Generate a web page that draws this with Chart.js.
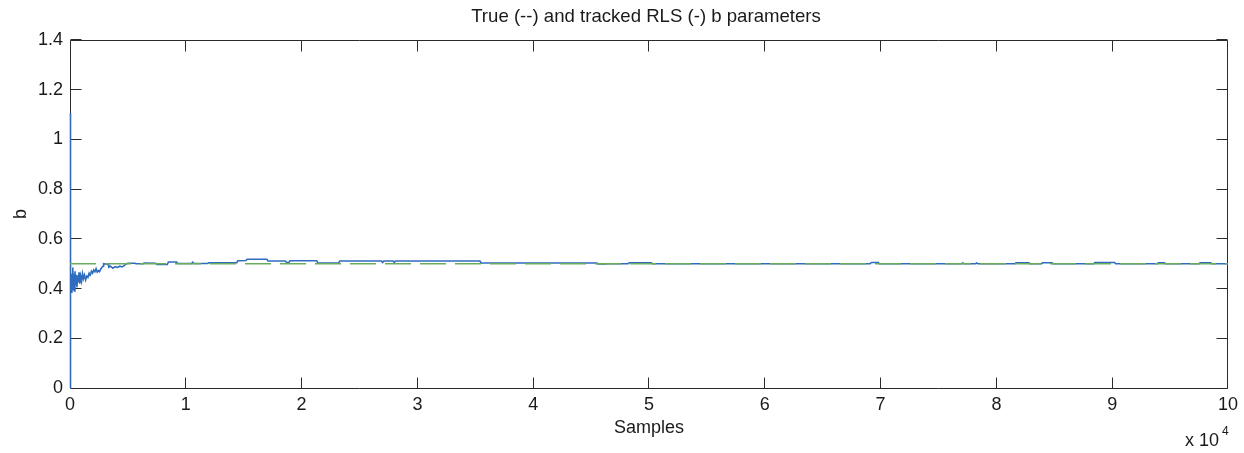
<!DOCTYPE html>
<html><head><meta charset="utf-8">
<script src="https://cdn.jsdelivr.net/npm/chart.js@4.4.1/dist/chart.umd.min.js"></script>
<style>html,body{margin:0;padding:0;background:#fff;overflow:hidden;}</style>
</head><body>
<canvas id="c" width="1244" height="453"></canvas>
<script>
// ---- data (x in samples) ----
const sampleIdx = [
 0, 10, 40, 80, 120, 160, 200, 240, 280, 330, 380, 430, 480, 540, 600, 660, 720, 780, 850, 920,
 1000, 1080, 1160, 1250, 1350, 1450, 1550, 1650, 1750, 1850, 1950, 2050, 2150, 2250, 2350, 2450,
 2550, 2650, 2750, 2850, 2900, 3100, 3300, 3350, 3500, 3700, 3900, 4100, 4300, 4500, 4700, 4900,
 5000, 5600, 5700, 6300, 6400, 7400, 7500, 8400, 8500, 9200, 9300, 10500, 10600, 10700, 11900, 12000,
 14400, 14500, 15200, 15300, 17000, 17100, 18600, 18700, 18900, 19000, 21300, 21400, 23200, 23300,
 26900, 27000, 27100, 27900, 28000, 28100, 35400, 35500, 45500, 45600, 46300, 46400, 48200, 48300,
 50200, 50300, 69100, 69200, 69800, 69900, 77000, 77100, 77200, 78200, 78300, 78400, 81600, 81700,
 82800, 82900, 83900, 84000, 84800, 84900, 88400, 88500, 90200, 90300, 93900, 94000, 94500, 94600,
 97500, 97600, 98500, 98600, 100000
];
const bTracked = [
 0, 1.105, 0.40, 0.47, 0.385, 0.46, 0.395, 0.485, 0.41, 0.46, 0.39, 0.47, 0.415, 0.455, 0.405, 0.45, 0.425, 0.465, 0.42, 0.45,
 0.43, 0.46, 0.44, 0.455, 0.435, 0.45, 0.445, 0.462, 0.455, 0.47, 0.462, 0.475, 0.468, 0.48, 0.466, 0.472,
 0.468, 0.478, 0.485, 0.49, 0.5, 0.499, 0.498, 0.486, 0.49, 0.482, 0.488, 0.485, 0.49, 0.487, 0.493, 0.5,
 0.502, 0.502, 0.5, 0.5, 0.503, 0.502, 0.497, 0.497, 0.507, 0.507, 0.501, 0.501, 0.506, 0.501, 0.501, 0.504,
 0.504, 0.512, 0.513, 0.518, 0.518, 0.511, 0.511, 0.505, 0.505, 0.512, 0.512, 0.503, 0.503, 0.511,
 0.511, 0.505, 0.511, 0.511, 0.505, 0.511, 0.511, 0.503, 0.503, 0.499, 0.499, 0.5, 0.5, 0.504,
 0.504, 0.5, 0.5, 0.505, 0.505, 0.5, 0.5, 0.503, 0.5, 0.5, 0.503, 0.5, 0.5, 0.504,
 0.504, 0.5, 0.5, 0.504, 0.504, 0.5, 0.5, 0.505, 0.505, 0.5, 0.5, 0.504, 0.504, 0.5,
 0.5, 0.504, 0.504, 0.5, 0.5
];
const trueIdx = [0, 100000];
const bTrue = [0.5, 0.5];
const xTickLabels = ['0','1','2','3','4','5','6','7','8','9','10'];
const yTickLabels = ['0','0.2','0.4','0.6','0.8','1','1.2','1.4'];
const titleText = 'True (--) and tracked RLS (-) b parameters';
const xTitle = 'Samples';
const yTitle = 'b';
const xScaleText = 'x 10';
const xScaleExp = '4';

const FONT = '"Liberation Sans", Arial, Helvetica, sans-serif';
const TXT = '#1a1a1a';
const AX = '#2b2b2b';

const framePlugin = {
  id: 'frame',
  beforeDatasetsDraw(chart) {
    const {ctx, chartArea: a, scales: {x, y}} = chart;
    ctx.save();
    ctx.strokeStyle = AX; ctx.lineWidth = 1;
    const L = Math.floor(a.left) + 0.5, R = Math.floor(a.right) + 0.5;
    const T = Math.floor(a.top) + 0.5, B = Math.floor(a.bottom) + 0.5;
    ctx.beginPath();
    ctx.rect(L, T, R - L, B - T);
    y.ticks.forEach(t => {
      const py = Math.floor(y.getPixelForValue(t.value)) + 0.5;
      ctx.moveTo(L, py); ctx.lineTo(L + 11, py);
      ctx.moveTo(R, py); ctx.lineTo(R - 11, py);
    });
    x.ticks.forEach(t => {
      const px = Math.floor(x.getPixelForValue(t.value)) + 0.5;
      ctx.moveTo(px, B); ctx.lineTo(px, B - 11);
      ctx.moveTo(px, T); ctx.lineTo(px, T + 11);
    });
    ctx.stroke();
    ctx.restore();
  },
  afterDraw(chart) {
    const {ctx, chartArea: a} = chart;
    ctx.save();
    ctx.fillStyle = TXT;
    ctx.textBaseline = 'alphabetic';
    // title
    ctx.textAlign = 'center';
    ctx.font = '18.6px ' + FONT;
    ctx.fillText(titleText, (a.left + a.right) / 2 - 3, 22);
    // exponent label
    ctx.textAlign = 'left';
    ctx.font = '18px ' + FONT;
    ctx.fillText(xScaleText, a.right - 43, 446);
    ctx.font = '12px ' + FONT;
    ctx.fillText(xScaleExp, a.right - 6, 435);
    ctx.restore();
  }
};

new Chart(document.getElementById('c'), {
  type: 'line',
  data: {
    datasets: [
      {
        label: 'True b',
        data: trueIdx.map((v, i) => ({x: v, y: bTrue[i]})),
        borderColor: '#6aab5c',
        borderWidth: 1.6,
        borderDash: [26, 9],
        pointRadius: 0,
        tension: 0
      },
      {
        label: 'Tracked RLS b',
        data: sampleIdx.map((v, i) => ({x: v, y: bTracked[i]})),
        borderColor: '#2f6cbf',
        borderWidth: 1.6,
        pointRadius: 0,
        tension: 0,
        clip: false
      }
    ]
  },
  options: {
    responsive: false,
    animation: false,
    devicePixelRatio: 1,
    events: [],
    layout: { padding: { left: 0, right: 14, top: 40, bottom: 0 } },
    plugins: {
      legend: { display: false },
      tooltip: { enabled: false },
      title: { display: false }
    },
    scales: {
      x: {
        type: 'linear',
        min: 0, max: 100000,
        afterFit: s => { s.height = 65; },
        afterBuildTicks: s => { s.ticks = xTickLabels.map((l, i) => ({value: i * 10000})); },
        grid: { display: false, drawTicks: false },
        border: { display: false },
        ticks: {
          padding: 6,
          maxRotation: 0,
          autoSkip: false,
          color: TXT,
          font: { family: FONT, size: 18 },
          callback: (v, i) => xTickLabels[i]
        },
        title: {
          display: true, text: xTitle, color: TXT,
          font: { family: FONT, size: 18 },
          padding: { top: 0, bottom: 14 }
        }
      },
      y: {
        type: 'linear',
        min: 0, max: 1.4,
        afterFit: s => { s.width = 70; },
        afterBuildTicks: s => { s.ticks = yTickLabels.map((l, i) => ({value: i * 0.2})); },
        grid: { display: false, drawTicks: false },
        border: { display: false },
        ticks: {
          padding: 7,
          autoSkip: false,
          color: TXT,
          font: { family: FONT, size: 18 },
          callback: (v, i) => yTickLabels[i]
        },
        title: {
          display: true, text: yTitle, color: TXT,
          font: { family: FONT, size: 18 },
          padding: { top: 10, bottom: 0 }
        }
      }
    }
  },
  plugins: [framePlugin]
});
</script>
</body></html>
